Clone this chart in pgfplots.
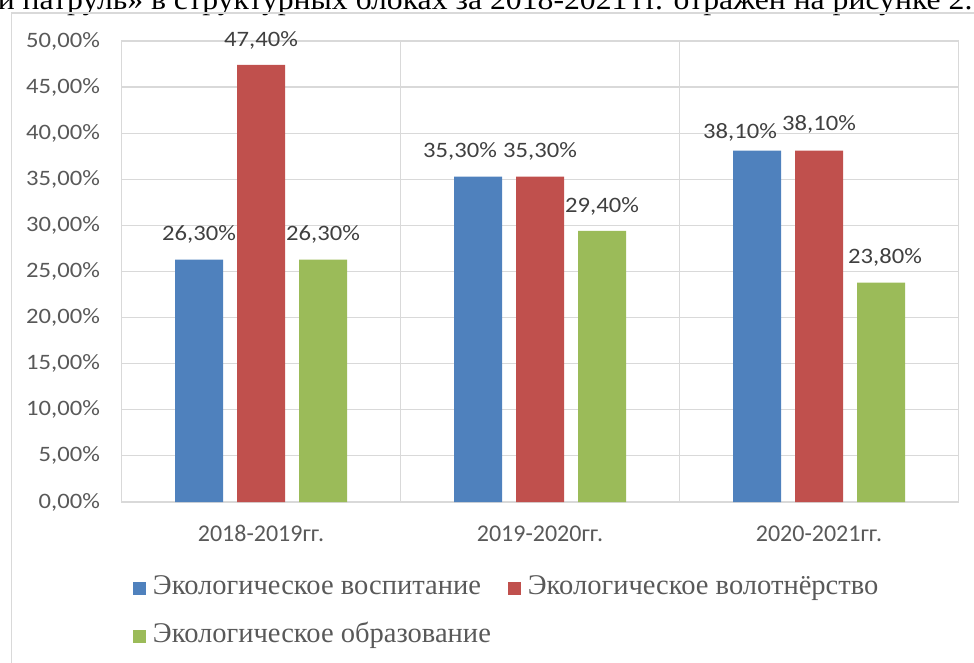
\documentclass[border=0pt]{standalone}
\usepackage{pgfplots}
\pgfplotsset{compat=1.18}
\usepackage{fontspec}
\setmainfont{Liberation Serif}
\newfontfamily\calS[FakeStretch=1.12]{Carlito}
\newfontfamily\calN{Carlito}
\definecolor{cblue}{HTML}{4F81BD}
\definecolor{cred}{HTML}{C0504D}
\definecolor{cgreen}{HTML}{9BBB59}
\definecolor{gridc}{HTML}{D9D9D9}
\definecolor{framec}{HTML}{D9D9D9}
\definecolor{tickc}{HTML}{595959}
\definecolor{labc}{HTML}{404040}
\definecolor{legc}{HTML}{595959}
\begin{document}
\begin{tikzpicture}
\useasboundingbox (-91.125pt,-120.75pt) rectangle (639.375pt,376.5pt);
\node[anchor=base west, inner sep=0pt] at (-93pt,369pt) {\resizebox{731pt}{\height}{\fontsize{22}{22}\selectfont и патруль» в структурных блоках за 2018-2021\,гг. отражен на рисунке 2.}};
\draw[framec, line width=1.1pt] (-82.5pt,-130pt) -- (-82.5pt,366.75pt) -- (650pt,366.75pt);
\begin{axis}[
  at={(0pt,0pt)}, anchor=south west,
  scale only axis, width=627.75pt, height=345.75pt,
  xmin=-0.5, xmax=2.5, ymin=0, ymax=50,
  ybar=10.5pt, bar width=36pt,
  xtick={0,1,2},
  xticklabels={2018-2019гг.,2019-2020гг.,2020-2021гг.},
  ytick={0,5,...,50},
  ymajorgrids,
  grid style={line width=0.9pt, draw=gridc},
  extra x ticks={0.5,1.5}, extra x tick labels={},
  extra x tick style={xmajorgrids=true, ymajorgrids=false, major tick length=0pt},
  major tick length=0pt,
  axis line style={draw=gridc, line width=0.9pt},
  /pgf/number format/assume math mode=true,
  yticklabel={\pgfmathprintnumber[fixed,fixed zerofill,precision=2,use comma]{\tick}\%},
  yticklabel style={font=\calS\fontsize{16.5}{16.5}\selectfont, text=tickc, anchor=east, inner sep=0pt, xshift=-16pt},
  xticklabel style={font=\calN\fontsize{18}{18}\selectfont, text=tickc, anchor=base, inner sep=0pt, yshift=-29.8pt},
  point meta=y,
  nodes near coords={\pgfmathprintnumber[fixed,fixed zerofill,precision=2,use comma]{\pgfplotspointmeta}\%},
  nodes near coords style={font=\calS\fontsize{16.5}{16.5}\selectfont, text=labc, anchor=center, inner sep=0pt, yshift=18.75pt, xshift=\dx pt, yshift=\dy pt},
  visualization depends on={value \thisrow{dx}\as\dx},
  visualization depends on={value \thisrow{dy}\as\dy},
  legend cell align=left,
  legend columns=2,
  legend style={at={([xshift=8.625pt,yshift=-54.2pt]axis description cs:0,0)}, anchor=north west, draw=none, fill=none, inner sep=0pt, outer sep=0pt, font=\fontsize{21.4}{21.4}\selectfont, text=legc, row sep=16pt, nodes={inner sep=0pt, text height=15pt, text depth=5pt}, /tikz/every odd column/.append style={column sep=5.25pt}, /tikz/every even column/.append style={column sep=12.75pt}},
  legend image code/.code={\fill[#1] (0pt,-5.175pt) rectangle (9.75pt,4.575pt);},
]
\addplot[fill=cblue, draw=none] table[x=x,y=y] {
x y dx dy
0 26.3 0 0
1 35.3 -13.5 0
2 38.1 -12.75 -5.25
};
\addplot[fill=cred, draw=none] table[x=x,y=y] {
x y dx dy
0 47.4 0 0
1 35.3 0 0
2 38.1 0 0.75
};
\addplot[fill=cgreen, draw=none] table[x=x,y=y] {
x y dx dy
0 26.3 0 0
1 29.4 0 0
2 23.8 3 0
};
\legend{Экологическое воспитание,Экологическое волотнёрство,Экологическое образование}
\end{axis}
\end{tikzpicture}
\end{document}
